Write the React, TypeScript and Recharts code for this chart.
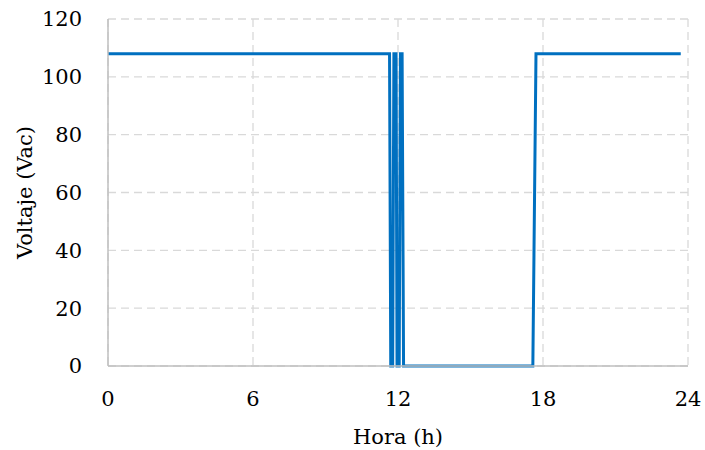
import { CartesianGrid, Line, LineChart, XAxis, YAxis } from "recharts";

// Hora (h) vs Voltaje (Vac)
const horas = [0, 11.65, 11.7, 11.78, 11.83, 11.92, 11.96, 12.05, 12.1, 12.17, 12.23, 17.58, 17.71, 23.7];
const voltaje = [108, 108, 0, 0, 108, 108, 0, 0, 108, 108, 0, 0, 108, 108];
const xTicks = [0, 6, 12, 18, 24];
const yTicks = [0, 20, 40, 60, 80, 100, 120];

const data = horas.map((h, i) => ({ h, v: voltaje[i] }));

const FONT = "'DejaVu Serif', serif";
const FS = 21;
const tickStyle = { fontSize: FS, fill: "#000", fontFamily: FONT };

function YLabel({ viewBox }: any) {
  const cx = 25;
  const cy = viewBox.y + viewBox.height / 2;
  return (
    <text
      x={cx}
      y={cy}
      dy="0.35em"
      transform={`rotate(-90, ${cx}, ${cy})`}
      textAnchor="middle"
      fontSize={FS}
      fontFamily={FONT}
      fill="#000"
    >
      Voltaje (Vac)
    </text>
  );
}

export default function App() {
  return (
    <div style={{ position: "absolute", left: 0, top: 0, background: "#fff" }}>
      <LineChart
        width={705}
        height={450}
        data={data}
        margin={{ top: 19, right: 17, bottom: 0, left: 0 }}
      >
        <CartesianGrid stroke="#d9d9d9" strokeDasharray="8 5" strokeWidth={1.3} />
        <XAxis
          dataKey="h"
          type="number"
          domain={[0, 24]}
          ticks={xTicks}
          tickLine={false}
          axisLine={{ stroke: "#bfbfbf", strokeWidth: 1.5 }}
          tick={tickStyle}
          tickMargin={19}
          height={84}
          label={{ value: "Hora (h)", position: "insideBottom", offset: 6, fontSize: FS, fill: "#000", fontFamily: FONT }}
        />
        <YAxis
          type="number"
          domain={[0, 120]}
          ticks={yTicks}
          tickLine={false}
          axisLine={{ stroke: "#bfbfbf", strokeWidth: 1.5 }}
          tick={tickStyle}
          tickMargin={20}
          width={108}
          label={<YLabel />}
        />
        <Line
          type="linear"
          dataKey="v"
          stroke="#0070C0"
          strokeWidth={3}
          dot={false}
          activeDot={false}
          isAnimationActive={false}
        />
      </LineChart>
    </div>
  );
}
